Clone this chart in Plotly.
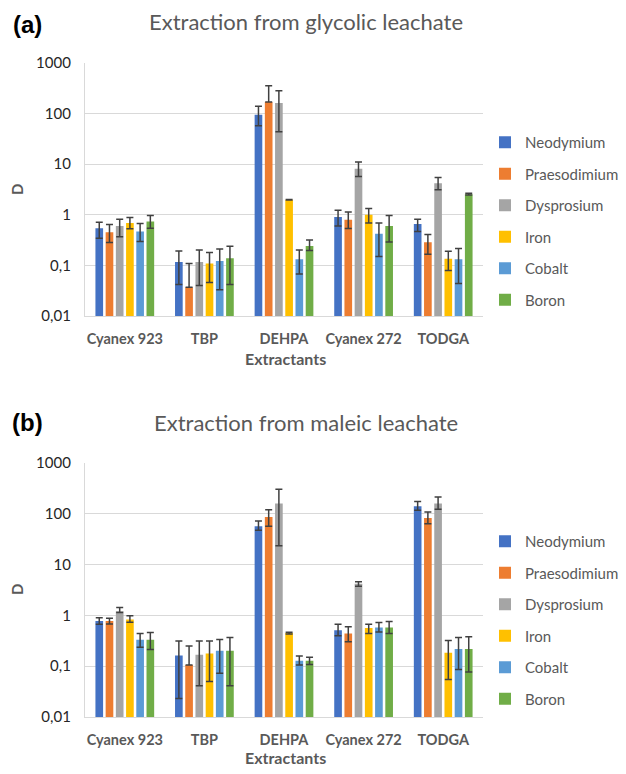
import plotly.graph_objects as go

extractants = ["Cyanex 923", "TBP", "DEHPA", "Cyanex 272", "TODGA"]
metals = ["Neodymium", "Praesodimium", "Dysprosium", "Iron", "Cobalt", "Boron"]
colors = ["#4472C4", "#ED7D31", "#A5A5A5", "#FFC000", "#5B9BD5", "#70AD47"]

# (a) glycolic leachate
gly_nd = [0.54, 0.117, 95, 0.90, 0.66]
gly_pr = [0.45, 0.037, 169, 0.80, 0.287]
gly_dy = [0.60, 0.117, 162, 8.1, 4.2]
gly_fe = [0.69, 0.109, 1.98, 1.0, 0.136]
gly_co = [0.47, 0.122, 0.132, 0.42, 0.132]
gly_b = [0.74, 0.138, 0.243, 0.60, 2.56]
gly_nd_up = [0.17, 0.076, 44, 0.33, 0.16]
gly_nd_dn = [0.196, 0.075, 37.5, 0.30, 0.19]
gly_pr_up = [0.19, 0.072, 187, 0.33, 0.12]
gly_pr_dn = [0.167, 0.0, 0.0, 0.265, 0.121]
gly_dy_up = [0.22, 0.085, 122, 2.9, 1.26]
gly_dy_dn = [0.23, 0.077, 118, 2.4, 1.09]
gly_fe_up = [0.19, 0.07, 0.03, 0.33, 0.054]
gly_fe_dn = [0.16, 0.063, 0.03, 0.31, 0.057]
gly_co_up = [0.2, 0.09, 0.07, 0.27, 0.083]
gly_co_dn = [0.174, 0.089, 0.064, 0.27, 0.088]
gly_b_up = [0.23, 0.10, 0.076, 0.37, 0.1]
gly_b_dn = [0.2, 0.096, 0.047, 0.31, 0.1]

# (b) maleic leachate
mal_nd = [0.78, 0.163, 56.9, 0.513, 140.6]
mal_pr = [0.78, 0.105, 86.8, 0.44, 83]
mal_dy = [1.21, 0.168, 158.6, 4.18, 158.6]
mal_fe = [0.83, 0.178, 0.448, 0.562, 0.184]
mal_co = [0.33, 0.201, 0.128, 0.579, 0.217]
mal_b = [0.33, 0.201, 0.128, 0.579, 0.217]
mal_nd_up = [0.12, 0.149, 15.5, 0.16, 35]
mal_nd_dn = [0.11, 0.14, 9.4, 0.116, 23.6]
mal_pr_up = [0.10, 0.144, 34, 0.157, 26]
mal_pr_dn = [0.10, 0.0, 30, 0.137, 19]
mal_dy_up = [0.22, 0.144, 144, 0.42, 56]
mal_dy_dn = [0.07, 0.127, 135, 0.43, 36]
mal_fe_up = [0.15, 0.134, 0.02, 0.11, 0.137]
mal_fe_dn = [0.10, 0.128, 0.02, 0.12, 0.129]
mal_co_up = [0.11, 0.135, 0.03, 0.147, 0.151]
mal_co_dn = [0.095, 0.128, 0.023, 0.11, 0.131]
mal_b_up = [0.13, 0.167, 0.022, 0.18, 0.161]
mal_b_dn = [0.116, 0.16, 0.02, 0.139, 0.14]

y_tickvals = [0.01, 0.1, 1, 10, 100, 1000]
y_ticktext = ["0,01", "0,1", "1", "10", "100", "1000"]

gly = [(gly_nd, gly_nd_up, gly_nd_dn), (gly_pr, gly_pr_up, gly_pr_dn),
       (gly_dy, gly_dy_up, gly_dy_dn), (gly_fe, gly_fe_up, gly_fe_dn),
       (gly_co, gly_co_up, gly_co_dn), (gly_b, gly_b_up, gly_b_dn)]
mal = [(mal_nd, mal_nd_up, mal_nd_dn), (mal_pr, mal_pr_up, mal_pr_dn),
       (mal_dy, mal_dy_up, mal_dy_dn), (mal_fe, mal_fe_up, mal_fe_dn),
       (mal_co, mal_co_up, mal_co_dn), (mal_b, mal_b_up, mal_b_dn)]

FONT = "Lato, 'Open Sans', sans-serif"
GRAY = "#595959"

fig = go.Figure()
for panel, (data, xa, ya, leg) in enumerate([(gly, "x", "y", "legend"), (mal, "x2", "y2", "legend2")]):
    for i, (vals, up, dn) in enumerate(data):
        fig.add_trace(go.Bar(
            x=extractants, y=vals, name=metals[i],
            marker=dict(color=colors[i], line=dict(width=0)),
            error_y=dict(type="data", symmetric=False, array=up, arrayminus=dn,
                         color="#404040", thickness=1.5, width=3.5),
            xaxis=xa, yaxis=ya, legend=leg, legendgroup=f"{panel}-{i}",
        ))

# page has an 8px body margin; positions below are given in screen coordinates
OFF = 8
W, H = 626, 774
L, R = 85 - OFF, W - (483 - OFF)
T, B = 63 - OFF, H - (717 - OFF)
ph = H - T - B
pw = W - L - R
def fy(Y):
    return (H - B - (Y - OFF)) / ph
def fx(X):
    return (X - OFF - L) / pw

yaxis_common = dict(type="log", range=[-2, 3], tickvals=y_tickvals, ticktext=y_ticktext,
                    showgrid=True, gridcolor="#D9D9D9", gridwidth=1.3,
                    showline=True, linecolor="#D9D9D9", linewidth=1.3,
                    ticks="", ticklabelstandoff=10, zeroline=False,
                    tickfont=dict(family=FONT, size=15, color="#262626"))
xaxis_common = dict(showgrid=False, showline=True, linecolor="#D9D9D9", linewidth=1.3,
                    ticks="", ticklabelstandoff=9,
                    tickfont=dict(family=FONT, size=14.5, color=GRAY, weight="bold"))

legend_common = dict(xanchor="left", yanchor="top",
                     font=dict(family=FONT, size=15, color=GRAY), tracegroupgap=9,
                     traceorder="grouped", itemwidth=30)

fig.update_layout(
    width=W, height=H,
    margin=dict(l=L, r=R, t=T, b=B, autoexpand=False),
    paper_bgcolor="white", plot_bgcolor="white",
    barmode="group", bargap=0.23, bargroupgap=0.25,
    xaxis=dict(domain=[0, 1], anchor="y", **xaxis_common),
    yaxis=dict(domain=[fy(316), 1], anchor="x", **yaxis_common),
    xaxis2=dict(domain=[0, 1], anchor="y2", **xaxis_common),
    yaxis2=dict(domain=[0, fy(463)], anchor="x2", **yaxis_common),
    legend=dict(x=fx(485), y=fy(126), **legend_common),
    legend2=dict(x=fx(485), y=fy(525), **legend_common),
    showlegend=True,
)

annotations = [
    dict(text="Extraction from glycolic leachate", x=fx(306), y=fy(22), font=dict(size=22, color=GRAY)),
    dict(text="Extraction from maleic leachate", x=fx(306), y=fy(422), font=dict(size=22, color=GRAY)),
    dict(text="<b>(a)</b>", x=fx(27), y=fy(24), font=dict(size=24, color="black", family="Liberation Sans, Arial, sans-serif")),
    dict(text="<b>(b)</b>", x=fx(27), y=fy(422), font=dict(size=24, color="black", family="Liberation Sans, Arial, sans-serif")),
    dict(text="<b>Extractants</b>", x=fx(285), y=fy(358), font=dict(size=16, color=GRAY)),
    dict(text="<b>Extractants</b>", x=fx(285), y=fy(758), font=dict(size=16, color=GRAY)),
    dict(text="<b>D</b>", x=fx(17), y=fy(190), textangle=-90, font=dict(size=15, color=GRAY)),
    dict(text="<b>D</b>", x=fx(17), y=fy(590), textangle=-90, font=dict(size=15, color=GRAY)),
]
for a in annotations:
    a["xref"] = "paper"
    a["yref"] = "paper"
    a["showarrow"] = False
    a["xanchor"] = "center"
    a["yanchor"] = "middle"
    a["font"].setdefault("family", FONT)
fig.update_layout(annotations=annotations)

fig.write_html("out.html")
